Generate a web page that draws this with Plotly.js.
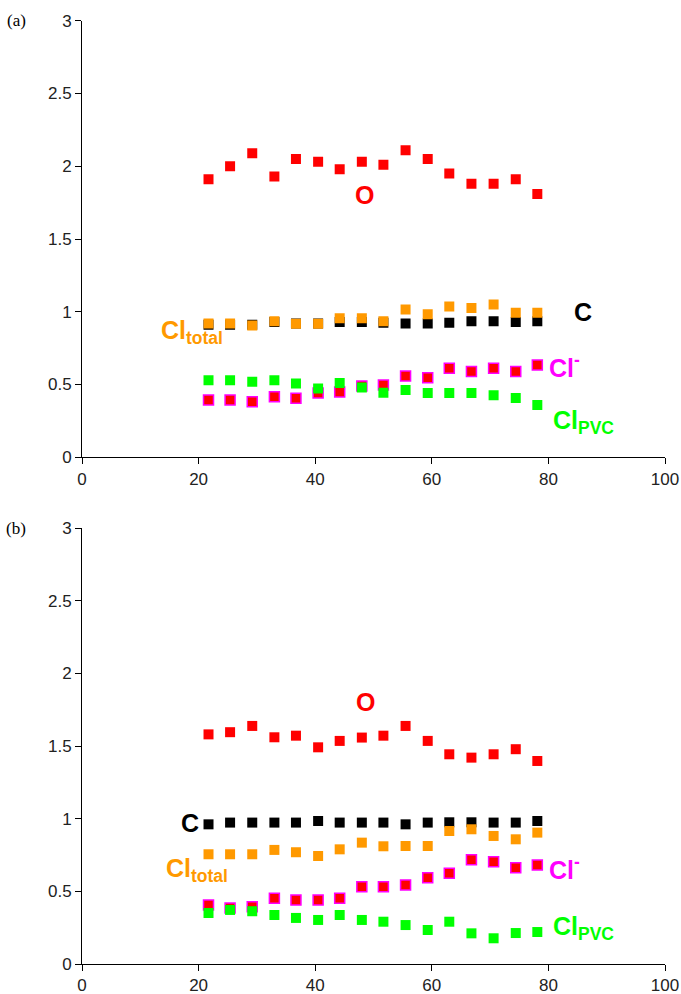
<!DOCTYPE html>
<html>
<head>
<meta charset="utf-8">
<script src="https://cdn.plot.ly/plotly-3.0.1.min.js"></script>
<style>html,body{margin:0;padding:0;background:#fff;}#chart{width:681px;height:994px;}</style>
</head>
<body>
<div id="chart"></div>
<script>
// x positions (shared by both panels)
const xVals = [21.7, 25.4, 29.2, 33.0, 36.7, 40.5, 44.2, 48.0, 51.7, 55.5, 59.3, 63.0, 66.8, 70.6, 74.4, 78.1];

// Panel (a)
const O_a     = [1.91, 2.00, 2.09, 1.93, 2.05, 2.03, 1.98, 2.03, 2.01, 2.11, 2.05, 1.95, 1.88, 1.88, 1.91, 1.81];
const C_a     = [0.91, 0.91, 0.91, 0.93, 0.92, 0.92, 0.93, 0.93, 0.925, 0.92, 0.92, 0.925, 0.935, 0.935, 0.93, 0.935];
const Tot_a   = [0.92, 0.92, 0.905, 0.935, 0.917, 0.917, 0.955, 0.955, 0.935, 1.015, 0.983, 1.036, 1.026, 1.05, 0.993, 0.993];
const Clm_a   = [0.393, 0.393, 0.381, 0.416, 0.405, 0.441, 0.448, 0.49, 0.496, 0.558, 0.546, 0.612, 0.59, 0.612, 0.59, 0.635];
const PVC_a   = [0.53, 0.53, 0.519, 0.53, 0.507, 0.473, 0.51, 0.48, 0.443, 0.462, 0.441, 0.441, 0.441, 0.427, 0.407, 0.359];

// Panel (b)
const O_b     = [1.58, 1.595, 1.638, 1.56, 1.571, 1.491, 1.535, 1.558, 1.571, 1.638, 1.535, 1.443, 1.42, 1.443, 1.478, 1.397];
const C_b     = [0.961, 0.973, 0.973, 0.973, 0.973, 0.984, 0.973, 0.973, 0.973, 0.961, 0.973, 0.975, 0.975, 0.973, 0.973, 0.984];
const Tot_b   = [0.755, 0.755, 0.755, 0.785, 0.769, 0.743, 0.789, 0.835, 0.81, 0.812, 0.812, 0.915, 0.927, 0.881, 0.858, 0.904];
const Clm_b   = [0.406, 0.385, 0.394, 0.452, 0.44, 0.44, 0.452, 0.532, 0.532, 0.544, 0.594, 0.624, 0.718, 0.704, 0.663, 0.681];
const PVC_b   = [0.351, 0.372, 0.363, 0.337, 0.317, 0.303, 0.337, 0.303, 0.291, 0.268, 0.234, 0.291, 0.211, 0.177, 0.213, 0.22];

const xTicks = [0, 20, 40, 60, 80, 100];
const yTicks = [0, 0.5, 1, 1.5, 2, 2.5, 3];

const RED = '#FF0000', BLACK = '#000000', ORANGE = '#FF9900', MAGENTA = '#FF00FF', GREEN = '#00FF00';
const MS = 10;

function series(y, color, xa, ya, line) {
  return {
    x: xVals, y: y, xaxis: xa, yaxis: ya, type: 'scatter', mode: 'markers',
    marker: {symbol: 'square', size: MS, color: color, line: line || {width: 0}},
    hoverinfo: 'x+y', showlegend: false
  };
}

const data = [
  series(O_a, RED, 'x', 'y'),
  series(C_a, BLACK, 'x', 'y'),
  series(Tot_a, ORANGE, 'x', 'y'),
  series(Clm_a, RED, 'x', 'y', {color: MAGENTA, width: 1.5}),
  series(PVC_a, GREEN, 'x', 'y'),
  series(O_b, RED, 'x2', 'y2'),
  series(C_b, BLACK, 'x2', 'y2'),
  series(Tot_b, ORANGE, 'x2', 'y2'),
  series(Clm_b, RED, 'x2', 'y2', {color: MAGENTA, width: 1.5}),
  series(PVC_b, GREEN, 'x2', 'y2')
];

const tickFont = {family: '"Liberation Sans Narrow", "Arial Narrow", "Liberation Sans", Arial, sans-serif', size: 17, color: '#222'};

function xAxis(anchor) {
  return {
    domain: [82/681, 665/681], range: [0, 100], anchor: anchor,
    tickvals: xTicks, ticks: 'outside', ticklen: 6, tickcolor: '#000', tickwidth: 1,
    showline: true, linecolor: '#000', linewidth: 1, showgrid: false, zeroline: false,
    tickfont: tickFont, fixedrange: true
  };
}
function yAxis(anchor, dom) {
  return {
    domain: dom, range: [0, 3], anchor: anchor,
    tickvals: yTicks, ticks: 'outside', ticklen: 6, tickcolor: '#000', tickwidth: 1,
    showline: true, linecolor: '#000', linewidth: 1, showgrid: false, zeroline: false,
    tickfont: tickFont, fixedrange: true
  };
}

const lblFont = (c) => ({family: '"Liberation Sans", Arial, sans-serif', size: 25, color: c, weight: 'bold'});

function lab(text, x, y, c, xr, yr) {
  return {text: text, x: x, y: y, xref: xr, yref: yr, showarrow: false, font: lblFont(c), xanchor: 'center', yanchor: 'middle'};
}

const annotations = [
  lab('O', 48.4, 1.80, RED, 'x', 'y'),
  lab('C', 86.0, 1.0, BLACK, 'x', 'y'),
  lab('Cl<sub>total</sub>', 18.8, 0.86, ORANGE, 'x', 'y'),
  lab('Cl<sup>-</sup>', 82.8, 0.63, MAGENTA, 'x', 'y'),
  lab('Cl<sub>PVC</sub>', 86.0, 0.24, GREEN, 'x', 'y'),
  lab('O', 48.7, 1.80, RED, 'x2', 'y2'),
  lab('C', 18.6, 0.97, BLACK, 'x2', 'y2'),
  lab('Cl<sub>total</sub>', 19.8, 0.65, ORANGE, 'x2', 'y2'),
  lab('Cl<sup>-</sup>', 82.8, 0.66, MAGENTA, 'x2', 'y2'),
  lab('Cl<sub>PVC</sub>', 86.0, 0.25, GREEN, 'x2', 'y2'),
  {text: '(a)', x: 16/681, y: 1 - 20/994, xref: 'paper', yref: 'paper', showarrow: false,
   xanchor: 'center', yanchor: 'middle', font: {family: '"Liberation Serif", "Times New Roman", serif', size: 17, color: '#000'}},
  {text: '(b)', x: 16/681, y: 1 - 528/994, xref: 'paper', yref: 'paper', showarrow: false,
   xanchor: 'center', yanchor: 'middle', font: {family: '"Liberation Serif", "Times New Roman", serif', size: 17, color: '#000'}}
];

const layout = {
  width: 681, height: 994,
  margin: {l: 0, r: 0, t: 0, b: 0, pad: 0},
  paper_bgcolor: '#fff', plot_bgcolor: '#fff',
  showlegend: false,
  xaxis: xAxis('y'),
  yaxis: yAxis('x', [1 - 457.3/994, 1 - 20.7/994]),
  xaxis2: xAxis('y2'),
  yaxis2: yAxis('x2', [1 - 964/994, 1 - 528/994]),
  annotations: annotations
};

Plotly.newPlot('chart', data, layout, {staticPlot: true, displayModeBar: false});
</script>
</body>
</html>
